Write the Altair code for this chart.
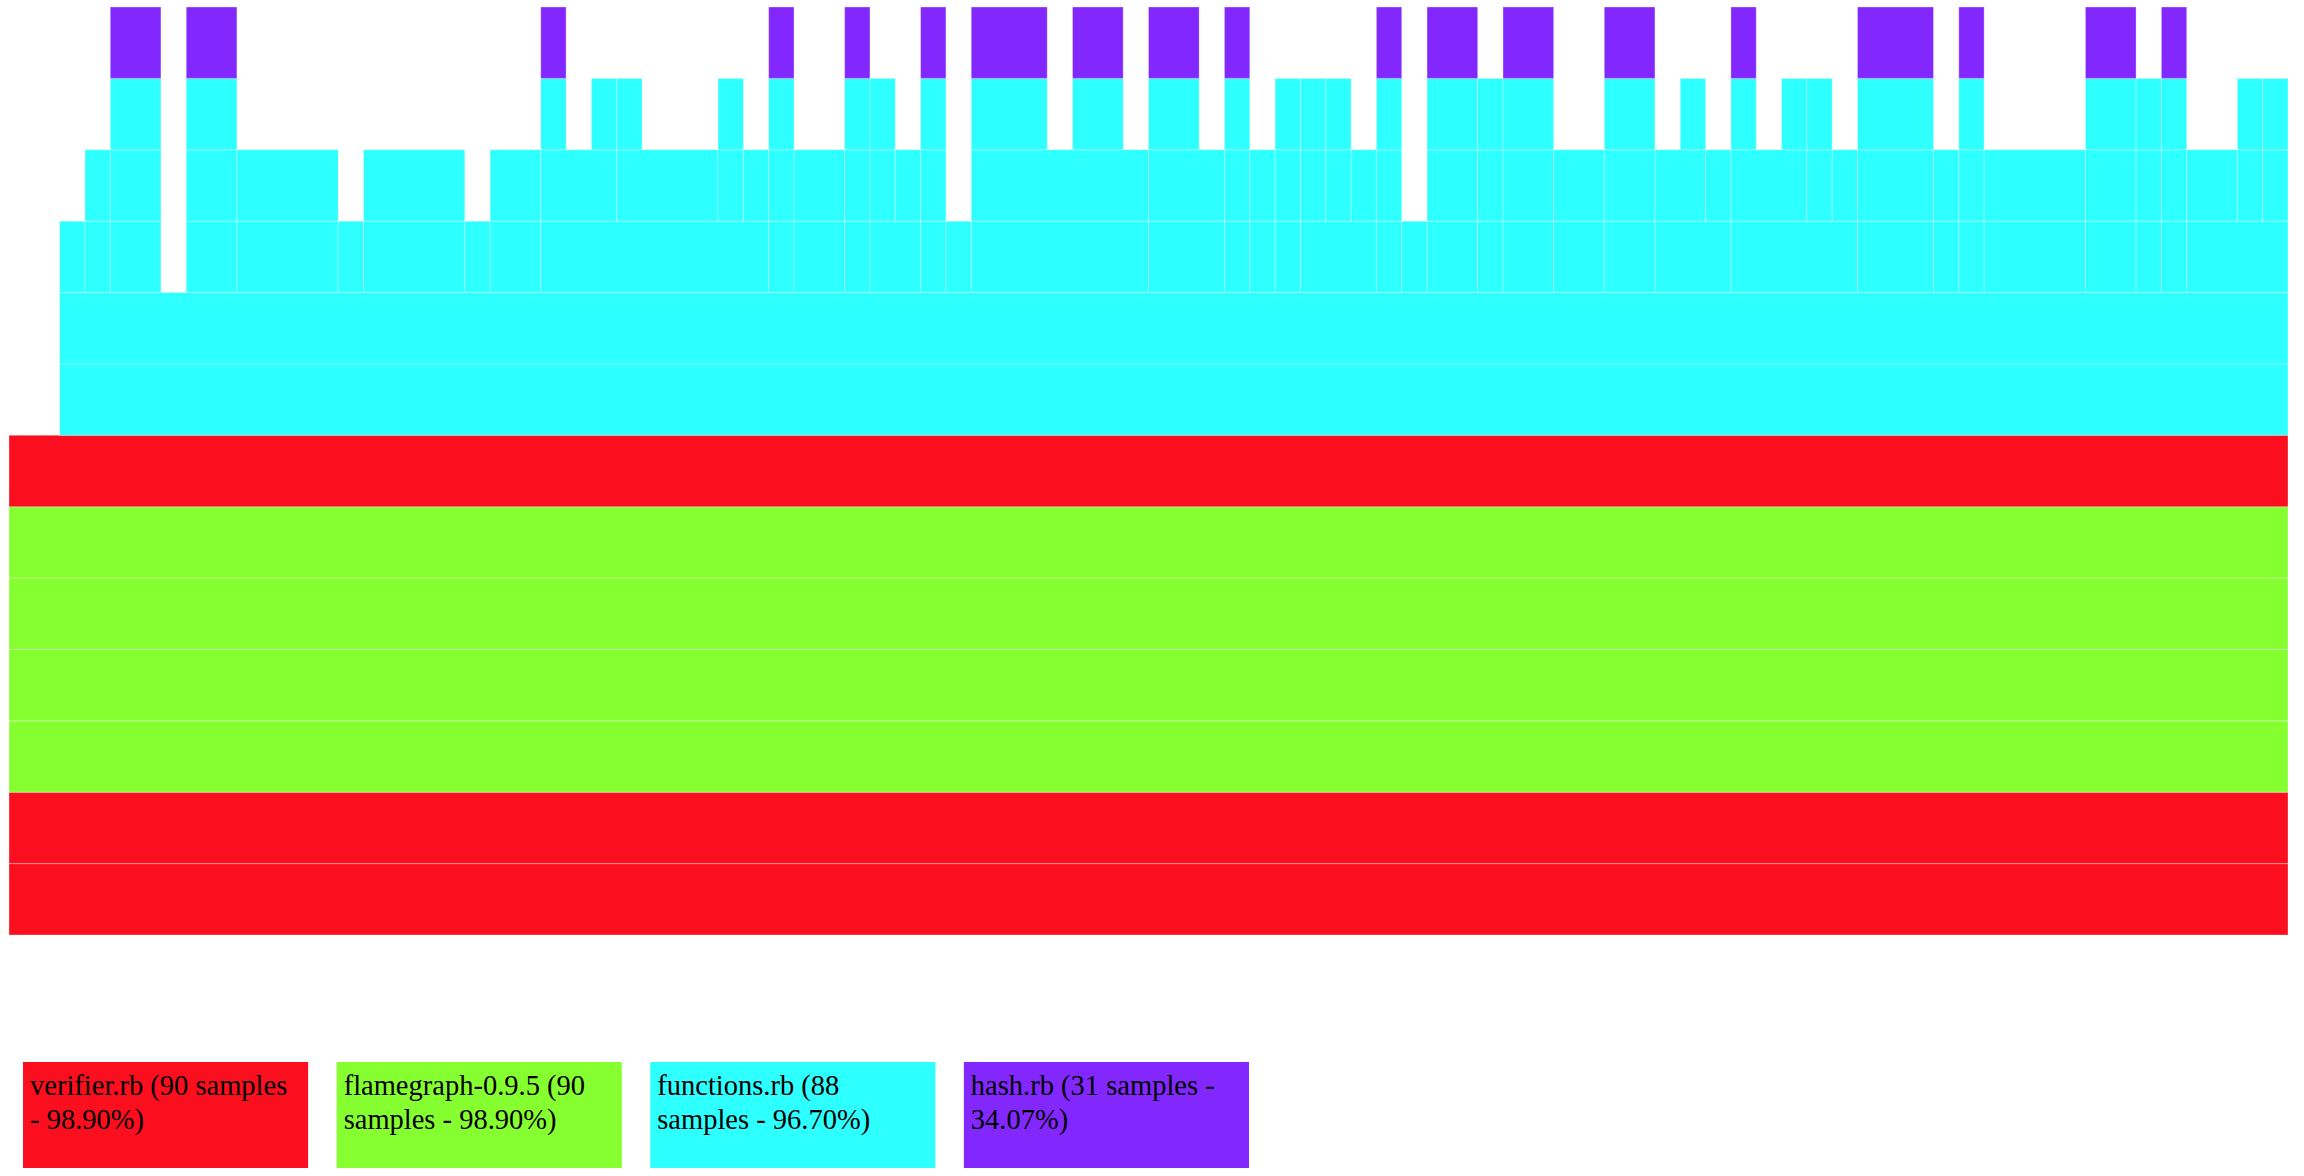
import altair as alt
import pandas as pd

# ---------------- data ----------------
total_samples = 91
files = ["verifier.rb", "flamegraph-0.9.5", "functions.rb", "hash.rb"]
file_samples = [90, 90, 88, 31]
file_colors = ["#fb0f1f", "#86ff31", "#2effff", "#8228ff"]

# file of each stack depth, bottom (0) to top (12)
depth_files = [
    "verifier.rb", "verifier.rb",
    "flamegraph-0.9.5", "flamegraph-0.9.5", "flamegraph-0.9.5", "flamegraph-0.9.5",
    "verifier.rb",
    "functions.rb", "functions.rb", "functions.rb", "functions.rb", "functions.rb",
    "hash.rb",
]

# frames of each depth as (first sample, end sample)
depth0 = [(0, 90)]
depth1 = [(0, 90)]
depth2 = [(0, 90)]
depth3 = [(0, 90)]
depth4 = [(0, 90)]
depth5 = [(0, 90)]
depth6 = [(0, 90)]
depth7 = [(2, 90)]
depth8 = [(2, 90)]
depth9 = [(2, 3), (3, 4), (4, 6), (7, 9), (9, 13), (13, 14), (14, 18), (18, 19),
          (19, 21), (21, 30), (30, 31), (31, 33), (33, 34), (34, 36), (36, 37),
          (37, 38), (38, 45), (45, 48), (48, 49), (49, 50), (50, 51), (51, 54),
          (54, 55), (55, 56), (56, 58), (58, 59), (59, 61), (61, 63), (63, 65),
          (65, 68), (68, 73), (73, 76), (76, 77), (77, 78), (78, 82), (82, 84),
          (84, 85), (85, 86), (86, 90)]
depth10 = [(3, 4), (4, 6), (7, 9), (9, 13), (14, 18), (19, 21), (21, 24), (24, 28),
           (28, 29), (29, 30), (30, 31), (31, 33), (33, 34), (34, 35), (35, 36),
           (36, 37), (38, 45), (45, 48), (48, 49), (49, 50), (50, 51), (51, 52),
           (52, 53), (53, 54), (54, 55), (56, 58), (58, 59), (59, 61), (61, 63),
           (63, 65), (65, 67), (67, 68), (68, 71), (71, 72), (72, 73), (73, 76),
           (76, 77), (77, 78), (78, 82), (82, 84), (84, 85), (85, 86), (86, 88),
           (88, 89), (89, 90)]
depth11 = [(4, 6), (7, 9), (21, 22), (23, 24), (24, 25), (28, 29), (30, 31), (33, 34),
           (34, 35), (36, 37), (38, 41), (42, 44), (45, 47), (48, 49), (50, 51),
           (51, 52), (52, 53), (54, 55), (56, 58), (58, 59), (59, 61), (63, 65),
           (66, 67), (68, 69), (70, 71), (71, 72), (73, 76), (77, 78), (82, 84),
           (84, 85), (85, 86), (88, 89), (89, 90)]
depth12 = [(4, 6), (7, 9), (21, 22), (30, 31), (33, 34), (36, 37), (38, 41), (42, 44),
           (45, 47), (48, 49), (54, 55), (56, 58), (59, 61), (63, 65), (68, 69),
           (73, 76), (77, 78), (82, 84), (85, 86)]

depth_frames = [depth0, depth1, depth2, depth3, depth4, depth5, depth6,
                depth7, depth8, depth9, depth10, depth11, depth12]

legend_labels = [
    "verifier.rb (90 samples\n- 98.90%)",
    "flamegraph-0.9.5 (90\nsamples - 98.90%)",
    "functions.rb (88\nsamples - 96.70%)",
    "hash.rb (31 samples -\n34.07%)",
]

# ---------------- tables ----------------
rows = []
for d, frames in enumerate(depth_frames):
    for s, e in frames:
        rows.append({"depth": d, "top": d + 1, "start": s, "end": e,
                     "file": depth_files[d]})
df = pd.DataFrame(rows)
x_max = max(e for _, e in depth0)
n_depth = len(depth_frames)

legend_df = pd.DataFrame({"file": files, "label": legend_labels,
                          "samples": file_samples})

color = alt.Color("file:N", scale=alt.Scale(domain=files, range=file_colors),
                  legend=None)

flame = alt.Chart(df).mark_rect(
    stroke="white", strokeWidth=1, strokeOpacity=0.3
).encode(
    x=alt.X("start:Q", scale=alt.Scale(domain=[0, x_max], nice=False, zero=False),
            axis=None),
    x2="end:Q",
    y=alt.Y("depth:Q", scale=alt.Scale(domain=[0, n_depth], nice=False), axis=None),
    y2="top:Q",
    color=color,
).properties(width=2279, height=928)

leg_scale = alt.Scale(type="band", domain=files, paddingInner=0.0909,
                      paddingOuter=0.0447)
boxes = alt.Chart(legend_df).mark_rect().encode(
    x=alt.X("file:N", sort=None, scale=leg_scale, axis=None),
    y=alt.value(0),
    y2=alt.value(106),
    color=color,
)
texts = alt.Chart(legend_df).mark_text(
    align="left", baseline="alphabetic", dx=7, font="Liberation Serif",
    fontSize=28.5, lineHeight=33.5, lineBreak="\n", color="black"
).encode(
    x=alt.X("file:N", sort=None, scale=leg_scale, axis=None, bandPosition=0),
    y=alt.value(33),
    text="label:N",
)
legend = alt.layer(boxes, texts).properties(width=1254, height=106)

chart = alt.vconcat(flame, legend, spacing=126).resolve_scale(
    x="independent", y="independent"
).properties(
    padding={"left": 8, "top": 6, "right": 0, "bottom": 0}
).configure(background="white").configure_view(stroke=None)

chart.save("out.html", embed_options={"renderer": "svg", "actions": False})
